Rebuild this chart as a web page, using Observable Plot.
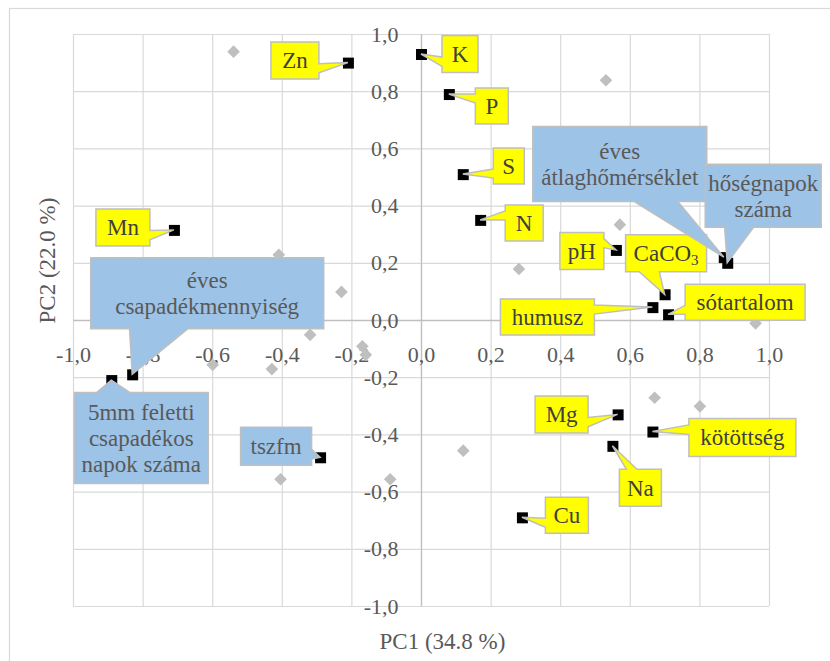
<!DOCTYPE html>
<html>
<head>
<meta charset="utf-8">
<script src="https://cdn.jsdelivr.net/npm/d3@7"></script>
<script src="https://cdn.jsdelivr.net/npm/@observablehq/plot@0.6"></script>
<style>body{margin:0}</style>
</head>
<body>
<script>
// ---------------- data ----------------
// variable loadings (names, PC1, PC2, group)
const loadingNames = [
  "Zn", "K", "P", "S", "N", "Mn", "pH", "CaCO3", "humusz", "sótartalom",
  "éves\nátlaghőmérséklet", "hőségnapok\nszáma", "éves\ncsapadékmennyiség",
  "5mm feletti\ncsapadékos\nnapok száma", "tszfm", "Mg", "Na", "kötöttség", "Cu"
];
const loadingPC1 = [-0.21, 0.00, 0.08, 0.12, 0.17, -0.71, 0.56, 0.70, 0.665, 0.71,
  0.87, 0.88, -0.83, -0.89, -0.29, 0.565, 0.55, 0.665, 0.29];
const loadingPC2 = [0.90, 0.93, 0.79, 0.51, 0.35, 0.315, 0.245, 0.09, 0.045, 0.02,
  0.22, 0.20, -0.19, -0.21, -0.48, -0.33, -0.44, -0.39, -0.69];
const loadingGroup = ["soil", "soil", "soil", "soil", "soil", "soil", "soil", "soil", "soil", "soil",
  "climate", "climate", "climate", "climate", "climate", "soil", "soil", "soil", "soil"];

// sample scores
const scorePC1 = [-0.54, 0.53, -0.41, -0.23, 0.57, 0.28, 0.96, -0.32, -0.17, -0.16,
  -0.60, -0.43, -0.405, -0.09, 0.67, 0.80, 0.12];
const scorePC2 = [0.94, 0.84, 0.23, 0.10, 0.335, 0.18, -0.01, -0.05, -0.09, -0.12,
  -0.155, -0.17, -0.555, -0.555, -0.27, -0.30, -0.455];

// ticks
const tickValues = [-1, -0.8, -0.6, -0.4, -0.2, 0, 0.2, 0.4, 0.6, 0.8, 1];
const tickLabels = ["-1,0", "-0,8", "-0,6", "-0,4", "-0,2", "0,0", "0,2", "0,4", "0,6", "0,8", "1,0"];
const xTitle = "PC1 (34.8 %)";
const yTitle = "PC2 (22.0 %)";

// ---------------- layout (callout box offset from marker, box size, px) ----------------
const calloutLayout = [
  [-53, -2, 48, 37], [39, 0, 36, 37], [43, 12, 33, 36], [46, -8, 31, 36], [44, 3, 38, 36],
  [-51, -2.5, 54, 37], [-34, 1, 44, 37], [1.5, -41, 81, 37], [-105, 10, 94, 36], [77, -12, 120, 36],
  [-104, -93, 174, 75], [36, -67, 116, 63], [75, -81, 233, 71],
  [30, 58, 134, 91], [-44, -11, 71, 38], [-56, 0, 53, 37], [28, 42, 42, 37], [90, 6, 107, 38], [45, -2, 43, 36]
];

// ---------------- tables ----------------
const loadings = loadingNames.map((name, i) => ({
  name, pc1: loadingPC1[i], pc2: loadingPC2[i], group: loadingGroup[i], layout: calloutLayout[i]
}));
const scores = scorePC1.map((v, i) => ({pc1: v, pc2: scorePC2[i]}));
const ticks = tickValues.map((v, i) => ({v, label: tickLabels[i]}));

const FONT = "Liberation Serif";
const fill = {soil: "#FFFF00", climate: "#9DC3E6"};
const textFill = {soil: "#404040", climate: "#595959"};

function calloutPath(px, py, cx, cy, w, h) {
  const L = cx - w / 2, R = cx + w / 2, T = cy - h / 2, B = cy + h / 2;
  const tx = px - cx, ty = py - cy;
  let side;
  if (Math.abs(tx) * h > Math.abs(ty) * w) side = tx > 0 ? "right" : "left";
  else side = ty > 0 ? "bottom" : "top";
  const pts = [[L, T]];
  if (side === "top") {
    const [a, b] = tx < 0 ? [2 / 12, 5 / 12] : [7 / 12, 10 / 12];
    pts.push([L + a * w, T], [px, py], [L + b * w, T]);
  }
  pts.push([R, T]);
  if (side === "right") {
    const [a, b] = ty < 0 ? [2 / 12, 5 / 12] : [7 / 12, 10 / 12];
    pts.push([R, T + a * h], [px, py], [R, T + b * h]);
  }
  pts.push([R, B]);
  if (side === "bottom") {
    const [a, b] = tx < 0 ? [2 / 12, 5 / 12] : [7 / 12, 10 / 12];
    pts.push([L + b * w, B], [px, py], [L + a * w, B]);
  }
  pts.push([L, B]);
  if (side === "left") {
    const [a, b] = ty < 0 ? [2 / 12, 5 / 12] : [7 / 12, 10 / 12];
    pts.push([L, T + b * h], [px, py], [L, T + a * h]);
  }
  return "M" + pts.map(p => p[0].toFixed(1) + "," + p[1].toFixed(1)).join("L") + "Z";
}

function callouts(index, scales) {
  const sx = scales.x, sy = scales.y;
  const g = d3.create("svg:g");
  for (const d of loadings) {
    const px = sx(d.pc1), py = sy(d.pc2);
    const [dx, dy, w, h] = d.layout;
    const cx = px + dx, cy = py + dy;
    g.append("path")
      .attr("d", calloutPath(px, py, cx, cy, w, h))
      .attr("fill", fill[d.group])
      .attr("stroke", "#BFBFBF")
      .attr("stroke-width", 1.5);
    const lines = d.name.split("\n");
    const lh = 26;
    lines.forEach((line, k) => {
      const t = g.append("text")
        .attr("x", cx)
        .attr("y", cy + (k - (lines.length - 1) / 2) * lh)
        .attr("dy", "0.34em")
        .attr("text-anchor", "middle")
        .attr("fill", textFill[d.group])
        .attr("font-family", FONT)
        .attr("font-size", 23);
      if (line === "CaCO3") {
        t.append("tspan").text("CaCO");
        t.append("tspan").attr("font-size", 15).attr("dy", "0.25em").text("3");
      } else {
        t.text(line);
      }
    });
  }
  return g.node();
}

function outerBorder(index, scales, values, dimensions) {
  const g = d3.create("svg:g");
  g.append("rect").attr("x", 9.5).attr("y", 8.5)
    .attr("width", dimensions.width + 20).attr("height", dimensions.height + 20)
    .attr("fill", "none").attr("stroke", "#D9D9D9").attr("stroke-width", 1.2);
  return g.node();
}

const chart = Plot.plot({
  width: 830,
  height: 661,
  marginLeft: 73,
  marginRight: 61,
  marginTop: 34,
  marginBottom: 55,
  style: {background: "white", fontFamily: FONT},
  x: {domain: [-1, 1], axis: null},
  y: {domain: [-1, 1], axis: null},
  marks: [
    outerBorder,
    Plot.ruleX(tickValues, {stroke: "#D9D9D9", strokeOpacity: 1, strokeWidth: 1.2}),
    Plot.ruleY(tickValues, {stroke: "#D9D9D9", strokeOpacity: 1, strokeWidth: 1.2}),
    Plot.ruleX([0], {stroke: "#BFBFBF", strokeOpacity: 1, strokeWidth: 1.3}),
    Plot.ruleY([0], {stroke: "#BFBFBF", strokeOpacity: 1, strokeWidth: 1.3}),
    Plot.text(ticks, {x: 0, y: "v", text: "label", textAnchor: "end", dx: -23, fill: "#595959",
      fontSize: 22, fontFamily: FONT}),
    Plot.text(ticks, {x: "v", y: 0, text: "label", dy: 34, fill: "#595959",
      fontSize: 22, fontFamily: FONT}),
    Plot.dot(scores, {x: "pc1", y: "pc2", symbol: "diamond2", r: 5.7, fill: "#BFBFBF", stroke: "none"}),
    Plot.dot(loadings, {x: "pc1", y: "pc2", symbol: "square", r: 6.2, fill: "#000000", stroke: "none"}),
    callouts,
    Plot.text([xTitle], {frameAnchor: "bottom", textAnchor: "middle", lineAnchor: "middle", dx: 21, dy: 35,
      fill: "#595959", fontSize: 23, fontFamily: FONT}),
    Plot.text([yTitle], {frameAnchor: "left", textAnchor: "middle", lineAnchor: "middle", rotate: -90, dx: -26, dy: -60,
      fill: "#595959", fontSize: 23, fontFamily: FONT})
  ]
});
const holder = document.createElement("div");
holder.appendChild(chart);
document.body.appendChild(holder);
</script>
</body>
</html>
